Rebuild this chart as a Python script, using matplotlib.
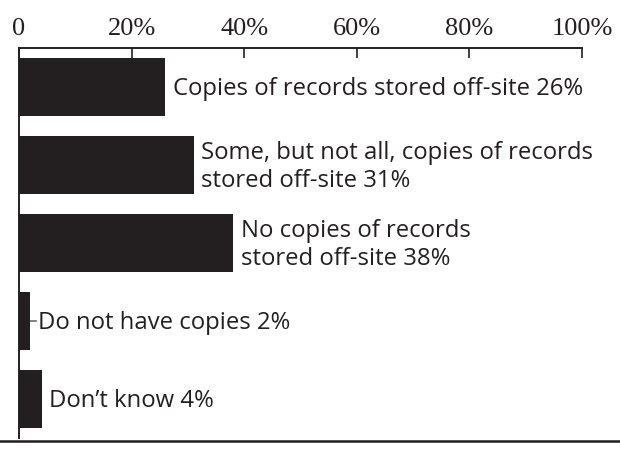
import matplotlib
matplotlib.use("Agg")
import matplotlib.pyplot as plt
from matplotlib.lines import Line2D

# Off-site storage of record copies (percent of respondents)
categories = [
    "Copies of records stored off-site",
    "Some, but not all, copies of records\nstored off-site",
    "No copies of records\nstored off-site",
    "Do not have copies",
    "Don\u2019t know",
]
values = [26, 31, 38, 2, 4]
tick_values = [0, 20, 40, 60, 80, 100]
tick_labels = ["0", "20%", "40%", "60%", "80%", "100%"]

ink = "#231f20"
W, H = 620, 451
fig = plt.figure(figsize=(W / 100, H / 100), dpi=100)
ax = fig.add_axes([19 / W, 1 - 438 / H, (582 - 19) / W, (438 - 48) / H])

ypos = [i + 0.5 for i in range(len(values))]
ax.barh(ypos, values, height=0.74, color=ink, edgecolor="none")
ax.set_xlim(0, 100)
ax.set_ylim(len(values), 0)

for y, v, cat in zip(ypos, values, categories):
    ax.annotate(cat + f" {v}%", xy=(v, y), xytext=(5.5, -1.5), textcoords="offset points",
                ha="left", va="center", fontsize=17.2, color=ink,
                family="Open Sans", linespacing=1.22)

# short leader joining the narrow bar to its label
ax.annotate("", xy=(values[3], ypos[3]), xytext=(4.5, 0), textcoords="offset points",
            arrowprops=dict(arrowstyle="-", color=ink, lw=0.8, shrinkA=0, shrinkB=0))

ax.xaxis.tick_top()
ax.set_xticks(tick_values)
ax.set_xticklabels(tick_labels, family="Liberation Serif", fontsize=19, color=ink)
ax.tick_params(axis="x", direction="in", length=7, width=1.2, color=ink, pad=6)
ax.set_yticks([])
for side in ("right", "bottom"):
    ax.spines[side].set_visible(False)
for side in ("top", "left"):
    ax.spines[side].set_color(ink)
    ax.spines[side].set_linewidth(1.4)

fig.add_artist(Line2D([0, 1], [1 - 441 / H, 1 - 441 / H], transform=fig.transFigure,
                      color=ink, linewidth=1.8))

fig.savefig("out.png", dpi=100)
